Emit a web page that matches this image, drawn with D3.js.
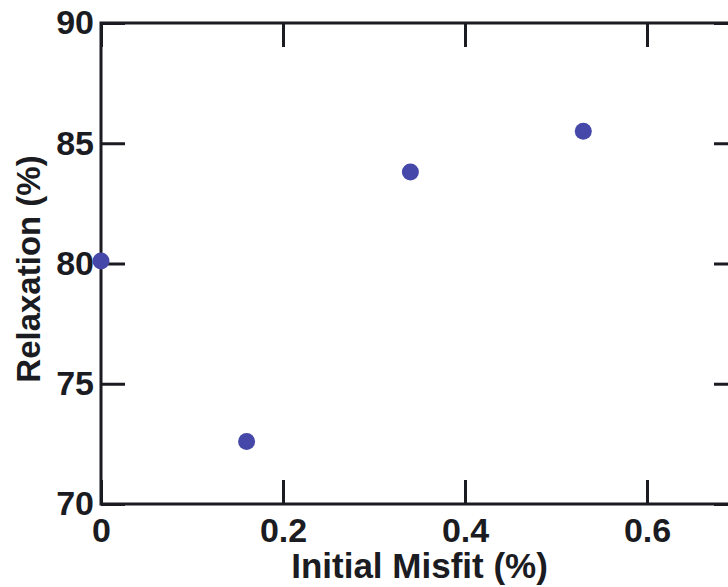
<!DOCTYPE html>
<html>
<head>
<meta charset="utf-8">
<script src="https://cdn.jsdelivr.net/npm/d3@7"></script>
<style>
  body { margin: 0; background: #fff; }
  text { font-family: "Liberation Sans", Arial, Helvetica, sans-serif; font-weight: bold; fill: #1b1b22; }
</style>
</head>
<body>
<div id="chart"></div>
<script>
// data
const misfit = [0, 0.16, 0.34, 0.53]
const relaxation = [80.1, 72.6, 83.8, 85.5]
const xTicks = [0, 0.2, 0.4, 0.6]
const yTicks = [70, 75, 80, 85, 90]

const width = 728,
  height = 587

const margin = { top: 23, left: 101, bottom: 83 }
const plotRight = 738

const x = d3.scaleLinear().domain([0, 0.7]).range([margin.left, plotRight]),
  y = d3.scaleLinear().domain([70, 90]).range([height - margin.bottom, margin.top])

const ink = "#1b1b22"
const tickLen = 24

const svg = d3.select("#chart").append("svg")
  .attr("width", width)
  .attr("height", height)

// axes with inward ticks
const xAxis = d3.axisBottom(x).tickValues(xTicks).tickSizeInner(-tickLen).tickSizeOuter(0).tickPadding(14)
  .tickFormat(d => d === 0 ? "0" : d3.format(".1f")(d))
const xAxisTop = d3.axisTop(x).tickValues(xTicks).tickSizeInner(-tickLen).tickSizeOuter(0).tickFormat("")
const yAxis = d3.axisLeft(y).tickValues(yTicks).tickSizeInner(-tickLen).tickSizeOuter(0).tickPadding(7)
const yAxisRight = d3.axisRight(y).tickValues(yTicks).tickSizeInner(-tickLen).tickSizeOuter(0).tickFormat("")

function styleAxis(g) {
  g.select(".domain").remove()
  g.selectAll(".tick line").attr("stroke", ink).attr("stroke-width", 3)
  g.selectAll(".tick text").style("font-size", "34px").attr("fill", ink)
}

svg.append("g").attr("transform", "translate(0," + y(70) + ")").call(xAxis).call(styleAxis)
svg.append("g").attr("transform", "translate(0," + y(90) + ")").call(xAxisTop).call(styleAxis)
svg.append("g").attr("transform", "translate(" + x(0) + ",0)").call(yAxis).call(styleAxis)
svg.append("g").attr("transform", "translate(" + x(0.7) + ",0)").call(yAxisRight).call(styleAxis)

// frame
svg.append("rect")
  .attr("x", x(0))
  .attr("y", y(90))
  .attr("width", x(0.7) - x(0))
  .attr("height", y(70) - y(90))
  .attr("fill", "none")
  .attr("stroke", ink)
  .attr("stroke-width", 3)

// points
svg.append("g").selectAll("circle")
  .data(misfit)
  .enter().append("circle")
  .attr("cx", d => x(d))
  .attr("cy", (d, i) => y(relaxation[i]))
  .attr("r", 8.5)
  .attr("fill", "#4548a8")

// titles
svg.append("text")
  .attr("x", 419.5)
  .attr("y", 578)
  .style("text-anchor", "middle")
  .style("font-size", "35px")
  .text("Initial Misfit (%)")

svg.append("text")
  .attr("transform", "translate(40,269) rotate(-90)")
  .style("text-anchor", "middle")
  .style("font-size", "33px")
  .text("Relaxation (%)")
</script>
</body>
</html>
